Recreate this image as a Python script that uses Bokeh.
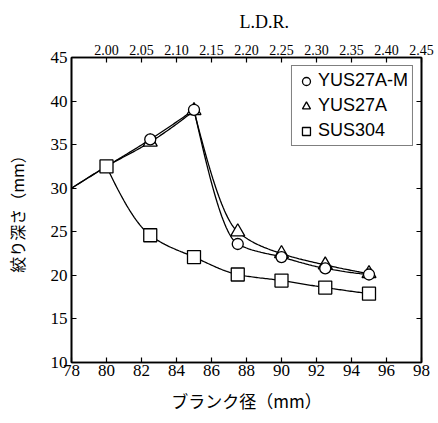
import numpy as np
from bokeh.plotting import figure
from bokeh.models import Range1d, LinearAxis, FixedTicker, NumeralTickFormatter, Legend, LegendItem
from bokeh.embed import file_html
from bokeh.resources import INLINE

# ---- data ----
blank_yus = [78, 80, 82.5, 85, 87.5, 90, 92.5, 95]
depth_yus27a_m = [30.0, 32.5, 35.6, 39.0, 23.6, 22.1, 20.8, 20.1]
depth_yus27a = [30.0, 32.5, 35.3, 38.9, 25.0, 22.5, 21.2, 20.2]
blank_sus = [80, 82.5, 85, 87.5, 90, 92.5, 95]
depth_sus304 = [32.5, 24.6, 22.1, 20.1, 19.4, 18.6, 17.9]
peak_index = 3          # YUS curves: rise up to this point, then fall
marker_start = 2        # first YUS point drawn with a marker

x_ticks = [78, 80, 82, 84, 86, 88, 90, 92, 94, 96, 98]
y_ticks = [10, 15, 20, 25, 30, 35, 40, 45]
ldr_ticks = [2.00, 2.05, 2.10, 2.15, 2.20, 2.25, 2.30, 2.35, 2.40, 2.45]
punch_diameter = 40.0


def pchip(xs, ys, n=30):
    xs = np.asarray(xs, float)
    ys = np.asarray(ys, float)
    h = np.diff(xs)
    d = np.diff(ys) / h
    m = np.zeros_like(xs)
    for k in range(1, len(xs) - 1):
        if d[k - 1] * d[k] <= 0:
            m[k] = 0.0
        else:
            w1 = 2 * h[k] + h[k - 1]
            w2 = h[k] + 2 * h[k - 1]
            m[k] = (w1 + w2) / (w1 / d[k - 1] + w2 / d[k])

    def edge(h0, h1, d0, d1):
        e = ((2 * h0 + h1) * d0 - h0 * d1) / (h0 + h1)
        if np.sign(e) != np.sign(d0):
            e = 0.0
        elif np.sign(d0) != np.sign(d1) and abs(e) > 3 * abs(d0):
            e = 3 * d0
        return e

    if len(xs) > 2:
        m[0] = edge(h[0], h[1], d[0], d[1])
        m[-1] = edge(h[-1], h[-2], d[-1], d[-2])
    else:
        m[0] = m[-1] = d[0]
    ox, oy = [], []
    for k in range(len(xs) - 1):
        t = np.linspace(0, 1, n, endpoint=(k == len(xs) - 2))
        h00 = 2 * t**3 - 3 * t**2 + 1
        h10 = t**3 - 2 * t**2 + t
        h01 = -2 * t**3 + 3 * t**2
        h11 = t**3 - t**2
        ox.extend(xs[k] + t * h[k])
        oy.extend(h00 * ys[k] + h10 * h[k] * m[k] + h01 * ys[k + 1] + h11 * h[k] * m[k + 1])
    return ox, oy


def yus_curve(xs, ys):
    ax, ay = pchip(xs[:peak_index + 1], ys[:peak_index + 1])
    bx, by = pchip(xs[peak_index:], ys[peak_index:])
    return ax + bx, ay + by


SERIF = "Liberation Serif"
SANS = "Liberation Sans"
CJK = "Noto Sans CJK JP"

p = figure(width=438, height=423, x_range=Range1d(78, 98), y_range=Range1d(10, 45),
           output_backend="svg", toolbar_location=None,
           min_border_left=71, min_border_right=17, min_border_top=53, min_border_bottom=61)
p.xgrid.visible = False
p.ygrid.visible = False
p.outline_line_color = "black"
p.outline_line_width = 1.6
p.background_fill_color = "white"
p.border_fill_color = "white"

# title used as the L.D.R. axis caption (placed off-centre like the original)
p.title.text = "L.D.R."
p.title.align = "left"
p.title.offset = 168
p.title.text_font = SERIF
p.title.text_font_size = "18px"
p.title.text_font_style = "normal"
p.title.text_color = "black"
p.title.standoff = 19

# bottom axis
xa = p.xaxis[0]
xa.ticker = FixedTicker(ticks=x_ticks)
xa.axis_label = "ブランク径（mm）"
# left axis
ya = p.yaxis[0]
ya.ticker = FixedTicker(ticks=y_ticks)
ya.axis_label = "絞り深さ（mm）"

for ax in (xa, ya):
    ax.major_tick_in = 5
    ax.major_tick_out = 0
    ax.minor_tick_line_color = None
    ax.axis_line_color = "black"
    ax.axis_line_width = 1.6
    ax.major_tick_line_width = 1.2
    ax.major_tick_line_color = "black"
    ax.major_label_text_font = SERIF
    ax.major_label_text_font_size = "17px"
    ax.major_label_text_color = "black"
    ax.axis_label_text_font = CJK
    ax.axis_label_text_font_style = "normal"
    ax.axis_label_text_color = "black"
xa.axis_label_text_font_size = "17px"
ya.axis_label_text_font_size = "16px"
xa.major_label_standoff = 2
xa.axis_label_standoff = 9
ya.major_label_standoff = 4
ya.axis_label_standoff = 19

# top axis (L.D.R.)
p.extra_x_ranges = {"ldr": Range1d(78 / punch_diameter, 98 / punch_diameter)}
ta = LinearAxis(x_range_name="ldr", ticker=FixedTicker(ticks=ldr_ticks),
                formatter=NumeralTickFormatter(format="0.00"))
ta.major_tick_in = 5
ta.major_tick_out = 0
ta.minor_tick_line_color = None
ta.axis_line_color = "black"
ta.axis_line_width = 1.6
ta.major_tick_line_width = 1.2
ta.major_tick_line_color = "black"
ta.major_label_text_font = SERIF
ta.major_label_text_font_size = "14px"
ta.major_label_text_color = "black"
ta.major_label_standoff = 3
p.add_layout(ta, "above")

# right axis (ticks only)
ra = LinearAxis(ticker=FixedTicker(ticks=y_ticks))
ra.major_tick_in = 5
ra.major_tick_out = 0
ra.minor_tick_line_color = None
ra.axis_line_color = "black"
ra.axis_line_width = 1.6
ra.major_tick_line_width = 1.2
ra.major_tick_line_color = "black"
ra.major_label_text_font_size = "0px"
ra.major_label_text_color = None
p.add_layout(ra, "right")

# lines
lx, ly = yus_curve(blank_yus, depth_yus27a_m)
p.line(lx, ly, line_color="black", line_width=1.3)
lx, ly = yus_curve(blank_yus, depth_yus27a)
p.line(lx, ly, line_color="black", line_width=1.3)
sx, sy = pchip(blank_sus, depth_sus304)
p.line(sx, sy, line_color="black", line_width=1.3)

# markers
mk = dict(fill_color="white", line_color="black", line_width=1.3)
r_s = p.scatter(blank_sus, depth_sus304, marker="square", size=13, **mk)
r_a = p.scatter(blank_yus[marker_start:], depth_yus27a[marker_start:], marker="triangle", size=14, **mk)
r_m = p.scatter(blank_yus[marker_start:], depth_yus27a_m[marker_start:], marker="circle", size=11, **mk)

legend = Legend(items=[LegendItem(label="YUS27A-M", renderers=[r_m]),
                       LegendItem(label="YUS27A", renderers=[r_a]),
                       LegendItem(label="SUS304", renderers=[r_s])],
                location="top_right")
legend.margin = 8
legend.padding = 4
legend.spacing = 4
legend.glyph_width = 20
legend.glyph_height = 20
legend.label_height = 20
legend.label_standoff = 2
legend.label_text_font = SANS
legend.label_text_font_size = "18px"
legend.label_text_color = "black"
legend.border_line_color = "black"
legend.border_line_width = 1.3
legend.background_fill_alpha = 1.0
p.add_layout(legend)

open("out.html", "w").write(file_html(p, INLINE))
